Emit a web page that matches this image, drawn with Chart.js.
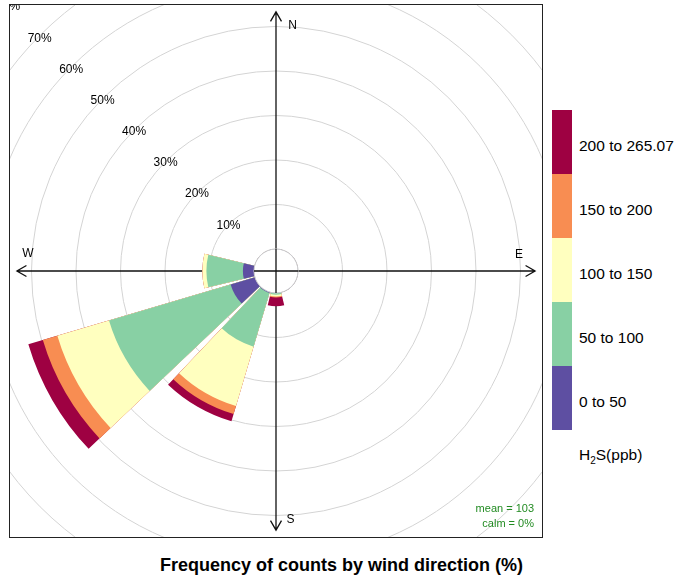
<!DOCTYPE html>
<html>
<head>
<meta charset="utf-8">
<script src="https://cdn.jsdelivr.net/npm/chart.js@4/dist/chart.umd.min.js"></script>
<style>
  body { margin: 0; background: #fff; width: 685px; height: 584px; position: relative; overflow: hidden;
         font-family: "Liberation Sans", Arial, sans-serif; }
  #panel { position: absolute; left: 9px; top: 4px; width: 532px; height: 532px; border: 1px solid #222; }
  #panel canvas { display: block; }
  .swatch { position: absolute; left: 552px; width: 20px; height: 64px; }
  .keylab { position: absolute; left: 579px; font-size: 15.5px; color: #000; transform: translateY(-50%); white-space: nowrap; }
  #title { position: absolute; left: 0; width: 683px; top: 556px; text-align: center; font-weight: bold;
           font-size: 18px; line-height: 19px; color: #000; }
</style>
</head>
<body>
<div id="panel"><canvas id="rose" width="532" height="532"></canvas></div>
<div id="key"></div>
<div id="title">Frequency of counts by wind direction (%)</div>
<script>
// wind directions (degrees), one petal each
const DIRECTIONS = [0, 30, 60, 90, 120, 150, 180, 210, 240, 270, 300, 330];

// H2S intervals (ppb) and their colours
const BANDS = ['0 to 50', '50 to 100', '100 to 150', '150 to 200', '200 to 265.07'];
const COLOURS = ['#5E4FA2', '#88D0A4', '#FFFFBF', '#F88D52', '#9E0142'];

// frequency (%) of each interval per direction
const band0to50    = [0, 0, 0, 0, 0, 0, 0.0,  0.2,  5.7, 2.5, 0, 0];
const band50to100  = [0, 0, 0, 0, 0, 0, 0.4, 12.6, 28.5, 8.2, 0, 0];
const band100to150 = [0, 0, 0, 0, 0, 0, 0.4, 13.9, 12.1, 0.9, 0, 0];
const band150to200 = [0, 0, 0, 0, 0, 0, 0.2,  1.9,  3.4, 0.0, 0, 0];
const band200to265 = [0, 0, 0, 0, 0, 0, 2.0,  1.7,  3.4, 0.0, 0, 0];
const SERIES = [band0to50, band50to100, band100to150, band150to200, band200to265];

// rings of the frequency axis (%)
const RINGS = [0, 10, 20, 30, 40, 50, 60, 70, 80];

const MEAN_TEXT = 'mean = 103';
const CALM_TEXT = 'calm = 0%';

// petal geometry
const PETAL = 27, GAP = 3;
const R_MIN = -4.94, R_MAX = 54.83;   // 0% sits on the offset circle
const AXIS_FRAC = 0.974;

// stack the intervals; each petal is followed by an empty gap slot
const labels = [];
DIRECTIONS.forEach(d => { labels.push(d + '°'); labels.push(''); });

const datasets = SERIES.map((s, k) => {
    const data = [];
    DIRECTIONS.forEach((d, i) => {
        let cum = 0;
        for (let j = 0; j <= k; j++) cum += SERIES[j][i];
        data.push(cum);
        data.push(0);
    });
    return {
        label: BANDS[k],
        data: data,
        backgroundColor: COLOURS[k],
        borderWidth: 0,
        angle: c => (c.dataIndex % 2 ? GAP : PETAL),
    };
});

function arrow(ctx, cx, cy, dx, dy, len) {
    const tx = cx + dx * len, ty = cy + dy * len;
    ctx.beginPath();
    ctx.moveTo(cx, cy);
    ctx.lineTo(tx, ty);
    const a = Math.atan2(dy, dx), h = 11, w = Math.PI / 6;
    ctx.moveTo(tx - h * Math.cos(a - w), ty - h * Math.sin(a - w));
    ctx.lineTo(tx, ty);
    ctx.lineTo(tx - h * Math.cos(a + w), ty - h * Math.sin(a + w));
    ctx.stroke();
}

const COMPASS = [['N', 16.5, -245.5], ['E', 243, -16], ['S', 14.5, 249], ['W', -248, -17.5]];

const roseFrame = {
    id: 'roseFrame',
    beforeDatasetsDraw(chart) {
        const s = chart.scales.r, ctx = chart.ctx;
        const cx = s.xCenter, cy = s.yCenter;
        const len = AXIS_FRAC * s.drawingArea;
        ctx.save();
        ctx.fillStyle = '#000';
        ctx.textAlign = 'center';
        ctx.textBaseline = 'middle';
        ctx.font = '12px "Liberation Sans", Arial, sans-serif';
        RINGS.forEach(v => {
            if (v === 0) return;
            const r = s.getDistanceFromCenterForValue(v);
            ctx.fillText(v + '%', cx - r * Math.SQRT1_2 - 0.5, cy - r * Math.SQRT1_2 + 1 + v * 0.03);
        });
        ctx.strokeStyle = '#111';
        ctx.lineWidth = 1.3;
        arrow(ctx, cx, cy, 0, -1, len);
        arrow(ctx, cx, cy, 0, 1, len);
        arrow(ctx, cx, cy, 1, 0, len);
        arrow(ctx, cx, cy, -1, 0, len);
        COMPASS.forEach(([t, x, y]) => ctx.fillText(t, cx + x, cy + y));
        ctx.fillStyle = '#228B22';
        ctx.textAlign = 'right';
        ctx.font = '11px "Liberation Sans", Arial, sans-serif';
        ctx.fillText(MEAN_TEXT, 524, 503.5);
        ctx.fillText(CALM_TEXT, 524, 518.5);
        ctx.restore();
    },
    afterDatasetsDraw(chart) {
        const s = chart.scales.r, ctx = chart.ctx;
        const cx = s.xCenter, cy = s.yCenter;
        const r0 = s.getDistanceFromCenterForValue(0);
        ctx.save();
        ctx.fillStyle = '#fff';
        ctx.beginPath();
        ctx.arc(cx, cy, r0, 0, Math.PI * 2);
        ctx.fill();
        ctx.strokeStyle = '#cfcfcf';
        ctx.lineWidth = 1;
        ctx.stroke();
        ctx.strokeStyle = '#111';
        ctx.lineWidth = 1.3;
        ctx.beginPath();
        ctx.moveTo(cx - r0, cy); ctx.lineTo(cx + r0, cy);
        ctx.moveTo(cx, cy - r0); ctx.lineTo(cx, cy + r0);
        ctx.stroke();
        ctx.restore();
    }
};

new Chart(document.getElementById('rose'), {
    type: 'polarArea',
    data: { labels: labels, datasets: datasets },
    options: {
        responsive: false,
        animation: false,
        layout: { padding: 0 },
        plugins: { legend: { display: false }, tooltip: { enabled: false } },
        scales: {
            r: {
                min: R_MIN,
                max: R_MAX,
                startAngle: -PETAL / 2,
                ticks: { display: false },
                grid: { color: '#d4d4d4', lineWidth: 1 },
                angleLines: { display: false },
                pointLabels: { display: false },
                afterBuildTicks: sc => { sc.ticks = RINGS.map(v => ({ value: v })); }
            }
        }
    },
    plugins: [roseFrame]
});

// colour key
const key = document.getElementById('key');
BANDS.forEach((b, k) => {
    const top = 110 + (BANDS.length - 1 - k) * 64;
    const sw = document.createElement('div');
    sw.className = 'swatch';
    sw.style.top = top + 'px';
    sw.style.background = COLOURS[k];
    key.appendChild(sw);
    const lab = document.createElement('div');
    lab.className = 'keylab';
    lab.style.top = (top + 36) + 'px';
    lab.textContent = b;
    key.appendChild(lab);
});
const unit = document.createElement('div');
unit.className = 'keylab';
unit.style.top = '456px';
unit.innerHTML = 'H<sub style="font-size:10px">2</sub>S(ppb)';
key.appendChild(unit);
</script>
</body>
</html>
